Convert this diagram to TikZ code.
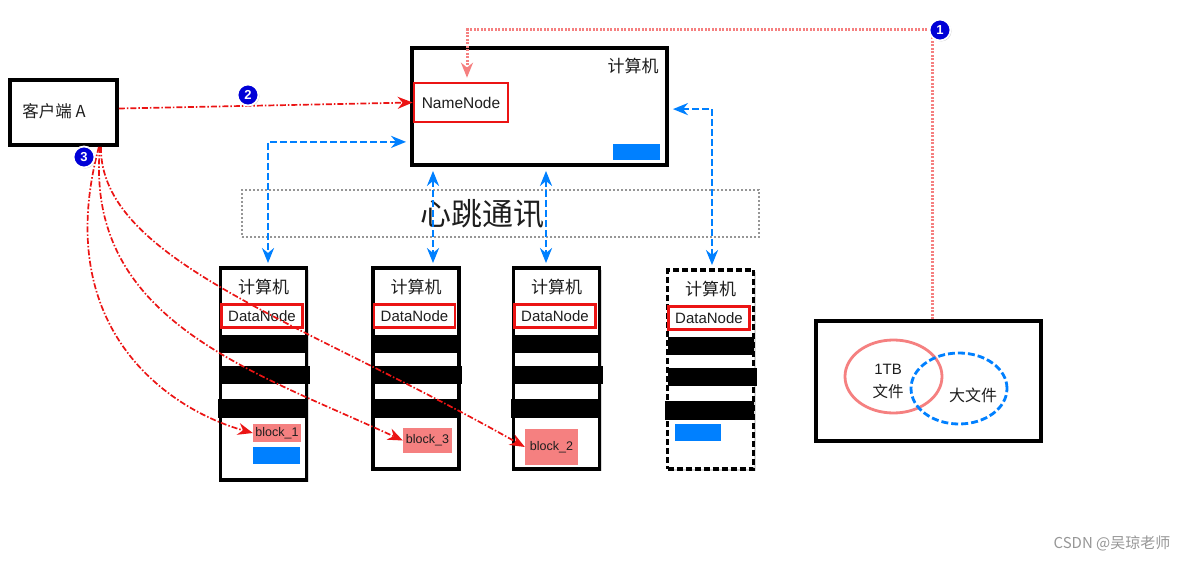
\documentclass[tikz,border=0pt]{standalone}
\usepackage{fontspec}
\setmainfont{Liberation Sans}
\newfontfamily\cjk{Noto Sans CJK SC}
\usepackage{tikz}
\usetikzlibrary{positioning, arrows.meta, calc, shadows, shapes.geometric}
\definecolor{HdRed}{RGB}{235,20,20}
\definecolor{HdPink}{RGB}{245,128,128}
\definecolor{HdBlue}{RGB}{0,128,255}
\definecolor{HdBadge}{RGB}{0,0,215}
\definecolor{HdGray}{RGB}{150,150,150}
\definecolor{HdText}{RGB}{30,30,30}

\begin{document}
\begin{tikzpicture}[x=1pt, y=-1pt,
    machine/.style={draw=black, line width=3.8pt, fill=white, inner sep=0pt,
      drop shadow={opacity=0.3, shadow xshift=2pt, shadow yshift=-2pt}},
    spare/.style={dash pattern=on 6pt off 3pt},
    redbox/.style={draw=HdRed, line width=2.6pt, inner sep=0pt, text=HdText},
    bar/.style={fill=black, inner sep=0pt, minimum height=18pt},
    bluebox/.style={fill=HdBlue, inner sep=0pt},
    blockbox/.style={fill=HdPink, inner sep=0pt, text=HdText,
      font=\fontsize{12.5}{14}\selectfont},
    cjktxt/.style={text=HdText, inner sep=0pt, font=\cjk\fontsize{17}{19}\selectfont},
    badge/.style={circle, fill=HdBadge, draw=white, line width=1.8pt, text=white,
      font=\bfseries\fontsize{13}{13}\selectfont, inner sep=0pt, minimum size=21pt,
      drop shadow={opacity=0.4, shadow xshift=1pt, shadow yshift=-1pt}},
    redlink/.style={HdRed, line width=1.7pt,
      dash pattern=on 6pt off 2pt on 1.5pt off 2pt, -{Stealth[length=15pt, width=12pt]}},
    bluelink/.style={HdBlue, line width=2.6pt, dash pattern=on 7pt off 3pt,
      {Stealth[length=15pt, width=12pt]}-{Stealth[length=15pt, width=12pt]},
      shorten <=4pt, shorten >=3pt},
    pinklink/.style={HdPink, line width=3pt, dash pattern=on 2pt off 1.5pt,
      -{Stealth[length=15pt, width=12pt]}, shorten >=4pt}]
  \useasboundingbox (0,0) rectangle (1196,561);

  % client
  \node[machine, minimum width=107pt, minimum height=65pt] (client) at (63.5,112.5) {};
  \node[cjktxt, font=\cjk\fontsize{16.5}{18}\selectfont] (clienttxt) at (54,111) {客户端 A};

  % name node machine
  \node[machine, minimum width=255pt, minimum height=117pt] (nm) at (539.5,106.5) {};
  \node[cjktxt] (nmtitle) at (633,66) {计算机};
  \node[redbox, minimum width=94pt, minimum height=39pt,
        font=\fontsize{15.5}{17}\selectfont] (nn) at (461,102.5) {NameNode};
  \node[bluebox, minimum width=47pt, minimum height=16pt] (nmblock) at (636.5,152) {};

  % heartbeat
  \node[draw=HdGray, line width=2.2pt, dash pattern=on 2pt off 2pt,
        minimum width=517pt, minimum height=47pt] (heart) at (500.5,213.5) {};
  \node[cjktxt, font=\cjk\fontsize{31}{33}\selectfont] (hbtxt) at (482,214) {心跳通讯};

  % data node machines
  \foreach \i/\cx/\top/\h/\st in {1/263.5/268/212/solid, 2/416/268/201/solid,
                                  3/556.5/268/201/solid, 4/710.5/270/199/spare}{
    \node[machine, \st, minimum width=86pt, minimum height=\h pt] (dn\i) at (\cx,\top+\h/2) {};
    \node[cjktxt] (dn\i-title) at (\cx,\top+19) {计算机};
    \node[redbox, minimum width=81pt, minimum height=23pt,
          font=\fontsize{15}{17}\selectfont] (dn\i-dn) at (\cx-1.5,\top+48) {DataNode};
    \node[bar, minimum width=86pt] (dn\i-bar1) at (\cx,\top+76) {};
    \node[bar, minimum width=89pt] (dn\i-bar2) at (\cx+1.5,\top+107) {};
    \node[bar, minimum width=89pt, minimum height=19pt] (dn\i-bar3) at (\cx-1,\top+140) {};
  }
  \node[blockbox, minimum width=48pt, minimum height=18pt] (b1) at (277,433) {block\_1};
  \node[blockbox, minimum width=49pt, minimum height=25pt] (b3) at (427.5,440.5) {block\_3};
  \node[blockbox, minimum width=53pt, minimum height=36pt] (b2) at (551.5,447) {block\_2};
  \node[bluebox, minimum width=47pt, minimum height=17pt] (dn1-blue) at (276.5,455.5) {};
  \node[bluebox, minimum width=46pt, minimum height=17pt] (dn4-blue) at (698,432.5) {};

  % file
  \node[machine, minimum width=225pt, minimum height=120pt] (file) at (928.5,381) {};
  \node[ellipse, draw=HdPink, line width=2.8pt, minimum width=97pt, minimum height=73pt]
        (tbfile) at (893.5,376.5) {};
  \node[ellipse, draw=HdBlue, line width=2.8pt, dash pattern=on 7pt off 3pt,
        minimum width=96pt, minimum height=71pt] (bigfile) at (959,388.5) {};
  \node[text=HdText, font=\fontsize{15}{16}\selectfont] (tbtxt) at (888,369) {1TB};
  \node[cjktxt, font=\cjk\fontsize{15.5}{17}\selectfont] (tbtxt2) at (888,392) {文件};
  \node[cjktxt, font=\cjk\fontsize{16}{18}\selectfont] (bigtxt) at (973,395) {大文件};

  % connectors
  \draw[pinklink] ([xshift=3.5pt]file.north) -- ([xshift=3.5pt]file.north |- 0,30)
        -| ([xshift=6pt]nn.north);
  \draw[redlink] ([yshift=4pt]client.east) -- (nn.west);
  \draw[bluelink] ([yshift=25pt]nm.south west) -| ([xshift=4.5pt]dn1.north);
  \draw[bluelink] ([xshift=17pt]dn2.north |- nm.south) -- ([xshift=17pt]dn2.north);
  \draw[bluelink] ([xshift=-10.5pt]dn3.north |- nm.south) -- ([xshift=-10.5pt]dn3.north);
  \draw[bluelink] ([yshift=-63pt]nm.north east) -| ([xshift=1.5pt]dn4.north);
  \draw[redlink] ([xshift=-20pt]client.south east) .. controls (50,330) and (170,410) .. (b1.west);
  \draw[redlink] ([xshift=-19pt]client.south east) .. controls (85,320) and (250,370) .. (b3.west);
  \draw[redlink] ([xshift=-18pt]client.south east) .. controls (100,260) and (300,320) .. (b2.west);

  % badges
  \node[badge] (mark1) at (940,30) {1};
  \node[badge] (mark2) at (248,95) {2};
  \node[badge] (mark3) at (84,157) {3};

  \node[text=HdGray, font=\cjk\fontsize{15}{17}\selectfont] (wm) at (1112,543) {CSDN @吴琼老师};
\end{tikzpicture}
\end{document}
